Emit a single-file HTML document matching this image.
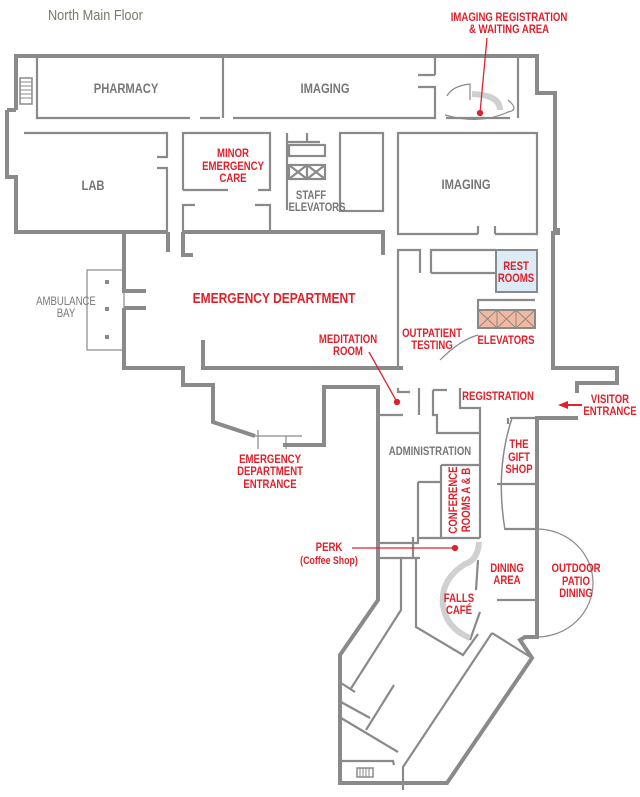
<!DOCTYPE html>
<html><head><meta charset="utf-8"><style>
html,body{margin:0;padding:0;background:#fff;}
svg{display:block;}
text{font-family:"Liberation Sans",sans-serif;font-weight:bold;font-size:12px;text-anchor:middle;transform-box:fill-box;transform-origin:center;transform:scaleX(0.8);}
text.t{transform:scaleX(0.85);transform-origin:left;}
.r{fill:#e0202a;}
.g{fill:#777;}
</style></head><body>
<svg width="640" height="797" viewBox="0 0 640 797" xmlns="http://www.w3.org/2000/svg">
<text class="t" x="48" y="20" style="font-weight:normal;font-size:15px;text-anchor:start;fill:#7a7a66">North Main Floor</text>

<rect x="496" y="250" width="41" height="42" fill="#dcecf7" stroke="#8a8a8a" stroke-width="2"/>
<rect x="478" y="310" width="57" height="18" fill="#f2b8a0" stroke="#8a8a8a" stroke-width="2"/>
<path d="M478 310 L497 328 M497 310 L478 328 M497 310 L516 328 M516 310 L497 328 M516 310 L535 328 M535 310 L516 328 M497 310 V328 M516 310 V328" stroke="#8a8a8a" stroke-width="1" fill="none"/>

<g fill="none" stroke="#8a8a8a" stroke-width="4" stroke-linejoin="miter">
<path d="M16 110 V56 H537 V93 H555 V230 H558 V233 H553 V368 H617 V383 H577 V393"/>
<path d="M7 110 H16 M7 110 V177 H16 V232 H168"/>
<path d="M578 418 H537 V637 H525 L520 640 L532 658 L447 783 H340 V655 L378 600 V387 H324 V445 H283"/>
<path d="M183 232 H383 V255"/>
<path d="M124 232 V291 H146 M124 308 H146 M124 308 V368 H183 V385 H213 V422 L255 436"/>
<path d="M203 340 V368 H403"/>
<path d="M168 232 V252 M183 232 V255 H193"/>
</g>

<g fill="none" stroke="#8a8a8a" stroke-width="2.2">
<path d="M37 56 V118 H190 M200 118 H220 M233 118 H435 V87 H418 M435 75 H418 M435 56 V75"/>
<path d="M223 56 V118"/>
<path d="M518 56 V118 M446 118 H510"/>
<path d="M24 133 H167 V157 H157 M157 168 H167 V232"/>
<path d="M183 190 V133 H270 V190 H258 M183 190 H228 M183 232 V205 H195 M255 205 H270 V232"/>
<path d="M287 133 V210 M287 142 H320 M307 133 V142"/>
<rect x="289" y="145" width="36" height="11"/>
<rect x="289" y="165" width="36" height="14"/>
<path d="M289 165 L307 179 M307 165 L289 179 M307 165 L325 179 M325 165 L307 179 M307 165 V179"/>
<rect x="340" y="133" width="43" height="78"/>
<path d="M478 234 H398 V133 H537 V234 H495 M478 234 V226 M495 234 V226"/>
<path d="M431 273 V250 H496 M431 273 H496"/>
<path d="M398 369 V250 H420 V273"/>
<path d="M535 300 H478 V310"/>
<path d="M440 360 Q460 340 478 335" stroke-width="1.2"/>
<path d="M378 415 H403 M398 388 V392 H410 M419 388 V415"/>
<path d="M433 390 H447 M433 390 V415 H437 V433 H480 M460 388 V408 H480 V538"/>
<path d="M441 465 H480 M441 465 V538"/>
<path d="M418 482 H441 M418 482 V543 H378 M418 538 H480"/>
<path d="M378 558 H413 V537 M414 558 H420"/>
<path d="M401 558 V610 L350 690"/>
<path d="M416 558 V627 L463 655 L478 634"/>
<path d="M478 560 L476 590 M480 612 L470 640"/>
<path d="M497 484 H537 M505 529 H537 M497 600 H537"/>
<path d="M512 418 Q495 470 505 530" stroke-width="1.5"/>
<path d="M510 418 H537 M508 418 V424"/>
<path d="M341 683 L355 692 M341 702 L370 718 M341 718 L398 752 M394 685 L366 730 M341 761 H393 L394 765"/>
<path d="M492 633 L403 767 V790"/>
<path d="M492 633 L532 658"/>
</g>
<rect x="357" y="768" width="16" height="9" fill="none" stroke="#8a8a8a" stroke-width="1.5"/>
<path d="M360 768 V777 M363 768 V777 M366 768 V777 M369 768 V777" stroke="#8a8a8a" stroke-width="1"/>
<rect x="20" y="78" width="12" height="26" fill="none" stroke="#8a8a8a" stroke-width="1.5"/>
<path d="M20 82 H32 M20 86 H32 M20 90 H32 M20 94 H32 M20 98 H32" stroke="#8a8a8a" stroke-width="1"/>

<g fill="none" stroke="#8a8a8a" stroke-width="1.2">
<rect x="87" y="270" width="37" height="80"/>
<path d="M255 436 L302 436 M258 430 V449 M286 436 V449"/>
<path d="M537 529 A56 54 0 0 1 537 637"/>
<path d="M447 96 Q452 86 470 84 L470 100 M445 115 Q480 125 508 112 Q520 110 508 100"/>
</g>
<rect x="105" y="280" width="4" height="4" fill="#8a8a8a"/>
<rect x="105" y="307" width="4" height="4" fill="#8a8a8a"/>
<rect x="105" y="335" width="4" height="4" fill="#8a8a8a"/>
<path d="M472 94 Q500 95 500 110" stroke="#d0d0d0" stroke-width="6" fill="none"/>
<path d="M479 542 Q478 560 465 564 Q440 580 443 605 Q446 628 470 638" stroke="#d0d0d0" stroke-width="6" fill="none"/>

<g stroke="#e0202a" stroke-width="1.3" fill="#e0202a">
<line x1="487" y1="38" x2="480" y2="113"/><circle cx="480" cy="113" r="2.5"/>
<line x1="369" y1="352" x2="397" y2="402"/><circle cx="397" cy="402" r="2.5"/>
<line x1="352" y1="548" x2="455" y2="548"/><circle cx="455" cy="548" r="2.5"/>
<line x1="566" y1="405" x2="582" y2="405" stroke-width="2"/>
<path d="M558 405 L568 401 L568 409 Z" stroke="none"/>
</g>

<text class="r" x="509" y="21">IMAGING REGISTRATION</text>
<text class="r" x="509" y="33">&amp; WAITING AREA</text>
<text class="g" x="126" y="93" style="font-size:14px">PHARMACY</text>
<text class="g" x="325" y="93" style="font-size:14px">IMAGING</text>
<text class="g" x="93" y="190" style="font-size:14px">LAB</text>
<text class="r" x="233" y="157">MINOR</text>
<text class="r" x="233" y="170">EMERGENCY</text>
<text class="r" x="233" y="182">CARE</text>
<text class="g" x="311" y="199">STAFF</text>
<text class="g" x="317" y="211">ELEVATORS</text>
<text class="g" x="466" y="189" style="font-size:14px">IMAGING</text>
<text class="r" x="516" y="270">REST</text>
<text class="r" x="516" y="282">ROOMS</text>
<text class="r" x="274" y="303" style="font-size:15px">EMERGENCY DEPARTMENT</text>
<text class="g" x="66" y="305" style="font-weight:normal">AMBULANCE</text>
<text class="g" x="66" y="317" style="font-weight:normal">BAY</text>
<text class="r" x="348" y="343">MEDITATION</text>
<text class="r" x="348" y="355">ROOM</text>
<text class="r" x="432" y="337">OUTPATIENT</text>
<text class="r" x="432" y="349">TESTING</text>
<text class="r" x="506" y="344">ELEVATORS</text>
<text class="r" x="498" y="400">REGISTRATION</text>
<text class="r" x="610" y="403">VISITOR</text>
<text class="r" x="610" y="415">ENTRANCE</text>
<text class="g" x="430" y="455">ADMINISTRATION</text>
<text class="r" x="519" y="448">THE</text>
<text class="r" x="519" y="461">GIFT</text>
<text class="r" x="519" y="473">SHOP</text>
<g transform="translate(457,500) rotate(-90)"><text class="r" x="0" y="0">CONFERENCE</text></g>
<g transform="translate(470,500) rotate(-90)"><text class="r" x="0" y="0">ROOMS A &amp; B</text></g>
<text class="r" x="329" y="551">PERK</text>
<text class="r" x="329" y="564" style="font-size:11px">(Coffee Shop)</text>
<text class="r" x="507" y="572">DINING</text>
<text class="r" x="507" y="584">AREA</text>
<text class="r" x="576" y="572">OUTDOOR</text>
<text class="r" x="576" y="585">PATIO</text>
<text class="r" x="576" y="597">DINING</text>
<text class="r" x="459" y="602">FALLS</text>
<text class="r" x="459" y="614">CAFÉ</text>
<text class="r" x="270" y="463">EMERGENCY</text>
<text class="r" x="270" y="475">DEPARTMENT</text>
<text class="r" x="270" y="488">ENTRANCE</text>
</svg>
</body></html>
